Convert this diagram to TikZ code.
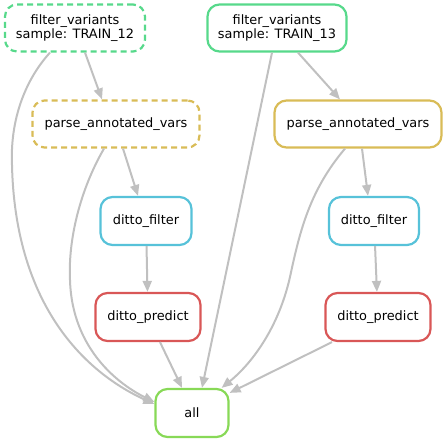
\documentclass[tikz,border=0pt]{standalone}
\usepackage{fontspec}
\setmainfont{DejaVu Sans}
\usepackage{tikz}
\usetikzlibrary{positioning,arrows.meta}
\usepackage{xcolor}
\definecolor{RuleGreen}{RGB}{87,217,139}
\definecolor{RuleYellow}{RGB}{217,188,87}
\definecolor{RuleCyan}{RGB}{87,194,217}
\definecolor{RuleRed}{RGB}{217,87,87}
\definecolor{RuleLime}{RGB}{136,217,87}
\definecolor{EdgeGray}{RGB}{192,192,192}

\begin{document}
\begin{tikzpicture}[x=1pt, y=-1pt,
    rule/.style={rectangle, rounded corners=12pt, line width=2.2pt, fill=white, minimum height=47pt,
        inner sep=0pt, align=center, font=\fontsize{12.9}{14.5}\selectfont},
    pending/.style={dash pattern=on 6pt off 4pt},
    edge/.style={EdgeGray, line width=2pt, -{Triangle[length=11pt, width=9pt]}},
]
\useasboundingbox (0,0) rectangle (448,443);

\node[rule, draw=RuleGreen, pending, minimum width=140pt] (fvA) at (75,28) {filter\_variants\\sample: TRAIN\_12};
\node[rule, draw=RuleGreen, minimum width=139pt] (fvB) at (277,28) {filter\_variants\\sample: TRAIN\_13};

\node[rule, draw=RuleYellow, pending, minimum width=167pt] (pavA) at (116,124) {parse\_annotated\_vars};
\node[rule, draw=RuleYellow, minimum width=167pt] (pavB) at (358,124) {parse\_annotated\_vars};

\node[rule, draw=RuleCyan, minimum width=91pt, minimum height=48pt] (dfA) at (146,221) {ditto\_filter};
\node[rule, draw=RuleCyan, minimum width=90pt, minimum height=48pt] (dfB) at (374,221) {ditto\_filter};

\node[rule, draw=RuleRed, minimum width=105pt, minimum height=48pt] (dpA) at (148,317) {ditto\_predict};
\node[rule, draw=RuleRed, minimum width=105pt, minimum height=48pt] (dpB) at (378,317) {ditto\_predict};

\node[rule, draw=RuleLime, minimum width=73pt, minimum height=48pt] (all) at (192,413) {all};

% left branch
\draw[edge] ([xshift=10pt]fvA.south) -- ([xshift=-14pt]pavA.north);
\draw[edge] ([xshift=-25pt]fvA.south) .. controls (25,80) and (10,120) .. (12,165)
    .. controls (15,300) and (80,370) .. ([yshift=9pt]all.west);
\draw[edge] ([xshift=-12pt]pavA.south) .. controls (80,190) and (68,240) .. (70,280)
    .. controls (72,350) and (120,385) .. ([yshift=11pt]all.west);
\draw[edge] ([xshift=7pt]pavA.south) -- ([xshift=-8pt]dfA.north);
\draw[edge] (dfA) -- (dpA);
\draw[edge] ([xshift=12pt]dpA.south) -- ([xshift=-10pt]all.north);

% right branch
\draw[edge] ([xshift=21pt]fvB.south) -- ([xshift=-18pt]pavB.north);
\draw[edge] ([xshift=-5pt]fvB.south) -- ([xshift=10pt]all.north);
\draw[edge] ([xshift=-13pt]pavB.south) .. controls (310,190) and (300,230) .. (290,277)
    .. controls (278,330) and (250,365) .. ([xshift=-8pt]all.north east);
\draw[edge] ([xshift=4pt]pavB.south) -- ([xshift=-6pt]dfB.north);
\draw[edge] (dfB) -- (dpB);
\draw[edge] ([xshift=-46pt]dpB.south) -- ([yshift=-5pt]all.north east);
\end{tikzpicture}
\end{document}
